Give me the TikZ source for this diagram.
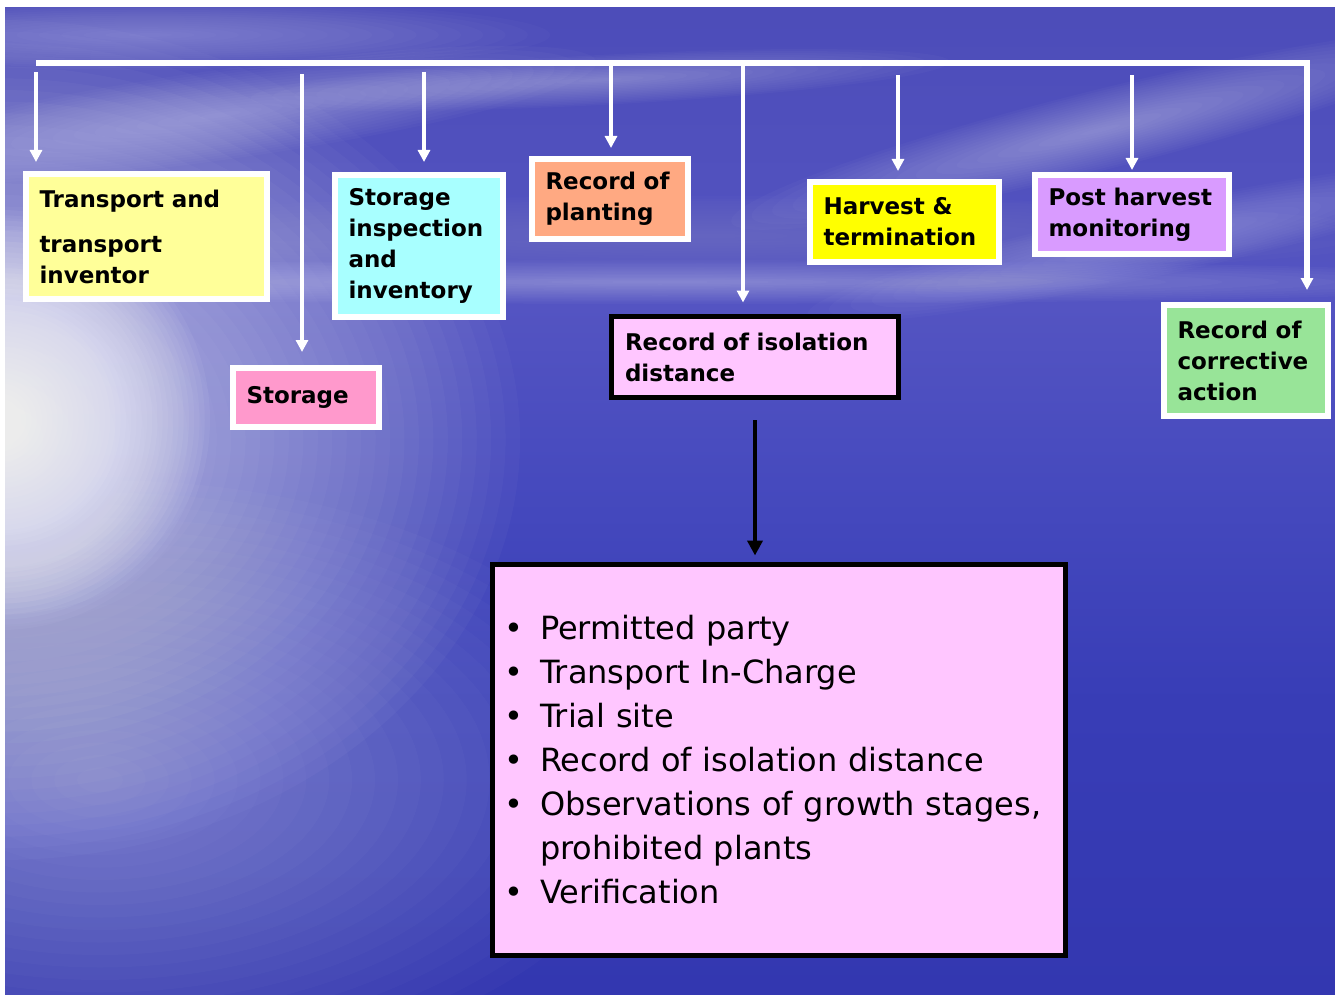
\documentclass[tikz,border=0pt]{standalone}
\usepackage{fontspec}
\setmainfont{DejaVu Sans}
\usetikzlibrary{arrows.meta}

% sea-and-sky backdrop, darker towards the water
\pgfdeclareverticalshading{seasky}{100bp}{%
  rgb(0bp)=(0.200,0.216,0.690);
  rgb(25bp)=(0.200,0.216,0.690);
  rgb(40bp)=(0.220,0.240,0.715);
  rgb(51bp)=(0.275,0.290,0.745);
  rgb(60bp)=(0.330,0.330,0.760);
  rgb(75bp)=(0.300,0.300,0.725);
  rgb(100bp)=(0.300,0.300,0.725)}

% soft white haze: stacked faint ellipses
% #1,#2 centre, #3,#4 radii, #5 opacity per layer, #6 rotation, #7 layers
\newcommand{\haze}[7]{%
  \foreach \k in {1,...,#7}{%
    \fill[white, opacity=#5, rotate around={#6:(#1,#2)}]
      (#1,#2) ellipse ({#3/#7*\k} and {#4/#7*\k});}}

\definecolor{cYellowLight}{HTML}{FFFF99}
\definecolor{cCyan}{HTML}{A8FFFF}
\definecolor{cSalmon}{HTML}{FFA982}
\definecolor{cPink}{HTML}{FF99CC}
\definecolor{cYellow}{HTML}{FFFF00}
\definecolor{cViolet}{HTML}{D99BFF}
\definecolor{cGreen}{HTML}{98E498}
\definecolor{cLilac}{HTML}{FFC6FF}

\tikzset{
  card/.style={draw=white, line width=6pt, inner xsep=13.5pt, inner ysep=0pt,
    align=left, font={\bfseries\fontsize{23pt}{31pt}\selectfont}},
  blackcard/.style={card, draw=black, line width=5pt},
  listcard/.style={draw=black, line width=5pt, inner xsep=11.5pt, inner ysep=0pt,
    align=left, font={\fontsize{32pt}{44pt}\selectfont}},
  warrow/.style={draw=white, line width=4pt, -{Triangle[width=12pt,length=12pt]}},
  barrow/.style={draw=black, line width=4pt, -{Triangle[width=15pt,length=15pt]}},
}
\newcommand{\bul}{\makebox[36pt][l]{•}}

\begin{document}
\begin{tikzpicture}[x=1pt, y=-1pt]
\useasboundingbox (0,0) rectangle (1335,995);
\fill[white] (0,0) rectangle (1335,995);

% backdrop
\begin{scope}
  \clip (5,8) rectangle (1335,995);
  \shade[shading=seasky] (5,8) rectangle (1335,995);
  % sun glare on the left and its reflection on the water
  \haze{0}{440}{520}{420}{.026}{0}{36}
  \haze{0}{420}{210}{210}{.05}{0}{40}
  \haze{100}{780}{550}{300}{.018}{0}{24}
  % horizon haze
  \haze{660}{282}{900}{22}{.025}{0}{16}
  \haze{700}{236}{700}{40}{.012}{0}{16}
  % cloud streaks
  \haze{220}{115}{380}{45}{.025}{8}{18}
  \haze{150}{35}{400}{35}{.02}{0}{18}
  \haze{600}{80}{350}{25}{.022}{3}{16}
  \haze{1100}{130}{380}{40}{.022}{14}{18}
  \haze{1150}{242}{350}{35}{.018}{12}{16}
\end{scope}

% stage boxes
\node[card, fill=cYellowLight, text width=214pt, minimum height=125pt] (transport) at (146.5,236.5)
  {Transport and\\[14pt]transport\\inventor};
\node[card, fill=cPink, text width=119pt, minimum height=59pt] (storage) at (306,397.5)
  {Storage};
\node[card, fill=cCyan, text width=141pt, minimum height=142pt] (inspect) at (419,246)
  {Storage\\inspection\\and\\inventory};
\node[card, fill=cSalmon, text width=129pt, minimum height=80pt] (planting) at (610,199)
  {Record of\\planting};
\node[blackcard, fill=cLilac, text width=260pt, minimum height=81pt] (isolation) at (755,357)
  {Record of isolation\\distance};
\node[card, fill=cYellow, text width=162pt, minimum height=80pt] (harvest) at (904.5,222)
  {Harvest \&\\termination};
\node[card, fill=cViolet, text width=167pt, minimum height=79pt] (post) at (1132,214.5)
  {Post harvest\\monitoring};
\node[card, fill=cGreen, text width=137pt, minimum height=111pt] (corrective) at (1246,360.5)
  {Record of\\corrective\\action};

% record contents
\node[listcard, fill=cLilac, text width=550pt, minimum height=391pt] (contents) at (779,760)
  {\bul Permitted party\\
   \bul Transport In-Charge\\
   \bul Trial site\\
   \bul Record of isolation distance\\
   \bul Observations of growth stages,\\
   \hspace*{36pt}prohibited plants\\
   \bul Verification};

% distribution bus
\coordinate (busL) at (36,63);
\coordinate (busR) at (1307,63);
\draw[white, line width=6pt, -{Triangle[width=12pt,length=12pt]}, shorten >=12pt]
  (busL) -- (busR) -- (busR |- corrective.north);

\coordinate (d1) at (36,72);
\coordinate (d2) at (302,74);
\coordinate (d3) at (424,72);
\coordinate (d4) at (611,63);
\coordinate (d5) at (743,63);
\coordinate (d6) at (898,75);
\coordinate (d7) at (1132,75);

\draw[warrow, shorten >=9pt]   (d1) -- (d1 |- transport.north);
\draw[warrow, shorten >=13pt]  (d2) -- (d2 |- storage.north);
\draw[warrow, shorten >=10pt]  (d3) -- (d3 |- inspect.north);
\draw[warrow, shorten >=8pt]   (d4) -- (d4 |- planting.north);
\draw[warrow, shorten >=11.5pt](d5) -- (d5 |- isolation.north);
\draw[warrow, shorten >=8pt]   (d6) -- (d6 |- harvest.north);
\draw[warrow, shorten >=2pt]   (d7) -- (d7 |- post.north);

\draw[barrow, shorten <=20pt, shorten >=6.5pt] (isolation.south) -- (isolation.south |- contents.north);
\end{tikzpicture}
\end{document}
